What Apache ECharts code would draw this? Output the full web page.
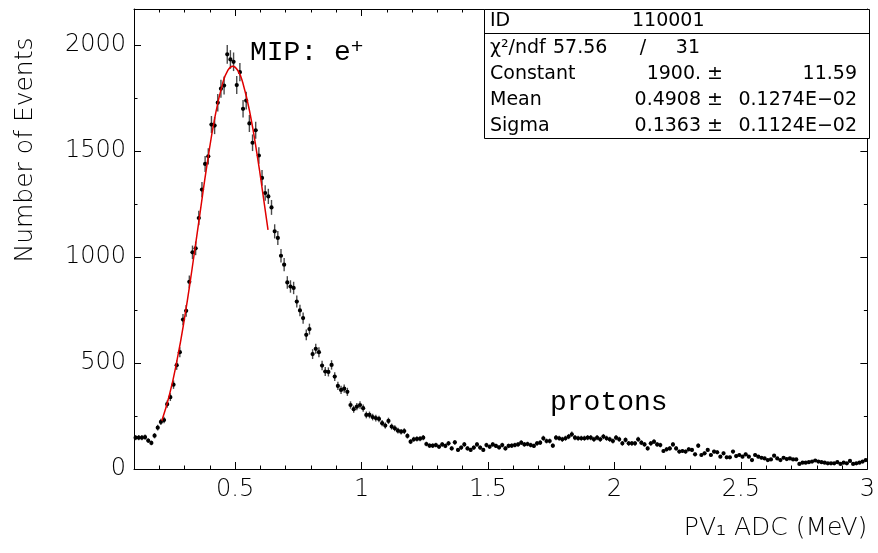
<!DOCTYPE html>
<html>
<head>
<meta charset="utf-8">
<script src="https://cdn.jsdelivr.net/npm/echarts@6/dist/echarts.min.js"></script>
<style>html,body{margin:0;padding:0;background:#fff}#c{width:878px;height:553px}</style>
</head>
<body>
<div id="c"></div>
<script>
// Histogram binning (x axis, MeV)
const binLow = 0.1;
const binWidth = 0.0125;
// Counts per bin
const counts = [
148,148,148,150,134,123,157,195,222,231,
306,339,398,490,551,705,746,883,1022,1041,
1184,1318,1439,1475,1625,1620,1728,1794,1809,1956,
1932,1921,1811,1872,1699,1738,1630,1539,1598,1479,
1373,1302,1286,1234,1121,1090,1006,964,880,861,
854,790,748,712,633,660,542,567,551,488,
460,458,491,436,392,373,379,364,302,282,
294,302,287,255,255,245,240,236,216,205,
227,200,192,181,176,179,156,129,140,142,
143,148,118,110,110,113,105,116,109,121,
97,126,90,101,116,97,90,101,116,101,
90,113,105,116,109,102,113,97,109,110,
113,116,124,116,118,113,109,121,124,145,
132,132,110,148,145,140,145,153,164,148,
145,145,145,148,148,140,148,140,153,145,
140,132,148,140,121,137,121,121,121,140,
124,116,97,121,129,116,113,85,93,97,
116,97,82,85,82,93,90,69,110,66,
74,90,66,82,79,58,74,55,55,82,
61,66,58,69,58,42,66,58,53,50,
42,45,63,50,42,53,47,50,45,45,
24,30,30,32,35,40,35,32,30,27,
27,27,32,24,30,27,38,24,27,30,
35,42
];
// Gaussian fit curve
const fitX = [0.21,0.24,0.27,0.30,0.33,0.36,0.39,0.42,0.45,0.47,0.49,0.51,0.53,0.56,0.59,0.61,0.63];
const fitY = [228,349,512,713,947,1198,1445,1660,1817,1878,1900,1881,1823,1670,1458,1296,1128];
// Axis ticks
const xMajor = [0.5,1,1.5,2,2.5,3];
const xMinor = [0.2,0.3,0.4,0.6,0.7,0.8,0.9,1.1,1.2,1.3,1.4,1.6,1.7,1.8,1.9,2.1,2.2,2.3,2.4,2.6,2.7,2.8,2.9];
const yMajor = [0,500,1000,1500,2000];
const yMinor = [250,750,1250,1750];
// Stats box texts
const statRows = [
  ['χ²/ndf', '57.56', '/', '31'],
  ['Constant', '1900. ±', '11.59'],
  ['Mean', '0.4908 ±', '0.1274E−02'],
  ['Sigma', '0.1363 ±', '0.1124E−02']
];

const histData = counts.map((v, i) => [binLow + binWidth * (i + 0.5), v, Math.sqrt(v)]);
const fitData = fitX.map((x, i) => [x, fitY[i]]);

const FONT = 'DejaVu Sans';
const FW = 200;
const chart = echarts.init(document.getElementById('c'), null, {renderer: 'canvas'});

function xAx(pos, ticks, len, showLine, showLabel) {
  return {
    type: 'value', position: pos, min: 0.1, max: 3.0,
    splitLine: {show: false},
    axisLine: {show: showLine, onZero: false, lineStyle: {color: '#000', width: 1}},
    axisTick: {show: true, inside: true, length: len, customValues: ticks, lineStyle: {color: '#000', width: 1}},
    axisLabel: showLabel ? {show: true, customValues: ticks, margin: 9, color: '#000', fontFamily: FONT, fontWeight: FW, fontSize: 24, formatter: v => String(v)} : {show: false}
  };
}
function yAx(pos, ticks, len, showLine, showLabel) {
  return {
    type: 'value', position: pos, min: 0, max: 2170,
    splitLine: {show: false},
    axisLine: {show: showLine, onZero: false, lineStyle: {color: '#000', width: 1}},
    axisTick: {show: true, inside: true, length: len, customValues: ticks, lineStyle: {color: '#000', width: 1}},
    axisLabel: showLabel ? {show: true, customValues: ticks, margin: 8, color: '#000', fontFamily: FONT, fontWeight: FW, fontSize: 24, formatter: v => String(v)} : {show: false}
  };
}

const statTexts = [];
const tx = (x, y, text, align) => ({type: 'text', x: x, y: y, z: 110, style: {text: text, fill: '#000', fontFamily: FONT, fontWeight: 400, fontSize: 19, textAlign: align || 'left', textVerticalAlign: 'middle'}});
statTexts.push(tx(490, 21, 'ID'));
statTexts.push(tx(632, 21, '110001'));
statTexts.push(tx(490, 48, statRows[0][0]));
statTexts.push(tx(553, 48, statRows[0][1]));
statTexts.push(tx(643, 48, statRows[0][2], 'center'));
statTexts.push(tx(700, 48, statRows[0][3], 'right'));
[74, 100, 126].forEach((y, k) => {
  const r = statRows[k + 1];
  statTexts.push(tx(490, y, r[0]));
  statTexts.push(tx(723, y, r[1], 'right'));
  statTexts.push(tx(857, y, r[2], 'right'));
});

chart.setOption({
  animation: false,
  backgroundColor: '#fff',
  grid: {left: 134, right: 9, top: 9, bottom: 84, containLabel: false},
  xAxis: [
    Object.assign(xAx('bottom', xMajor, 7, true, true), {
      name: 'PV₁ ADC (MeV)', nameLocation: 'end', nameGap: 0,
      nameTextStyle: {align: 'right', verticalAlign: 'top', padding: [47, 0, 0, 0], color: '#000', fontFamily: FONT, fontWeight: FW, fontSize: 25}
    }),
    xAx('bottom', xMinor, 3.5, false, false),
    xAx('top', xMajor, 7, true, false),
    xAx('top', xMinor, 3.5, false, false)
  ],
  yAxis: [
    yAx('left', yMajor, 7, true, true),
    yAx('left', yMinor, 3.5, false, false),
    yAx('right', yMajor, 7, true, false),
    yAx('right', yMinor, 3.5, false, false)
  ],
  graphic: [
    {type: 'rect', z: 100, shape: {x: 484.5, y: 9.5, width: 385, height: 129}, style: {fill: '#fff', stroke: '#000', lineWidth: 1}},
    {type: 'line', z: 101, shape: {x1: 484.5, y1: 33.5, x2: 869.5, y2: 33.5}, style: {stroke: '#000', lineWidth: 1}},
    ...statTexts,
    {type: 'text', x: 25, y: 150, rotation: Math.PI / 2, z: 100,
      style: {text: 'Number of Events', fill: '#000', fontFamily: FONT, fontWeight: FW, fontSize: 25, textAlign: 'center', textVerticalAlign: 'middle'}},
    {type: 'text', x: 250, y: 53, z: 100,
      style: {text: 'MIP: e{sup|+}', fill: '#000', fontFamily: 'Liberation Mono', fontSize: 28, textVerticalAlign: 'middle',
        rich: {sup: {fontSize: 21, fontFamily: 'Liberation Mono', verticalAlign: 'top', padding: [0, 0, 12, 0]}}}},
    {type: 'text', x: 550, y: 403, z: 100,
      style: {text: 'protons', fill: '#000', fontFamily: 'Liberation Mono', fontSize: 28, textVerticalAlign: 'middle'}}
  ],
  series: [
    {
      type: 'custom', xAxisIndex: 0, yAxisIndex: 0, data: histData, z: 5,
      renderItem: function (params, api) {
        const x = api.value(0), y = api.value(1), e = api.value(2);
        const c = api.coord([x, y]);
        const t = api.coord([x, y + e]);
        const b = api.coord([x, y - e]);
        const hw = api.size([binWidth, 0])[0] / 2;
        return {type: 'group', children: [
          {type: 'line', shape: {x1: c[0], y1: t[1], x2: c[0], y2: b[1]}, style: {stroke: '#4a4a4a', lineWidth: 1.4}},
          {type: 'line', shape: {x1: c[0] - hw, y1: c[1], x2: c[0] + hw, y2: c[1]}, style: {stroke: '#222', lineWidth: 1}},
          {type: 'circle', shape: {cx: c[0], cy: c[1], r: 2.1}, style: {fill: '#000'}}
        ]};
      }
    },
    {
      type: 'line', xAxisIndex: 0, yAxisIndex: 0, data: fitData, smooth: true, showSymbol: false, symbol: 'none', z: 6,
      lineStyle: {color: '#e00000', width: 1.5}
    }
  ]
});
</script>
</body>
</html>
